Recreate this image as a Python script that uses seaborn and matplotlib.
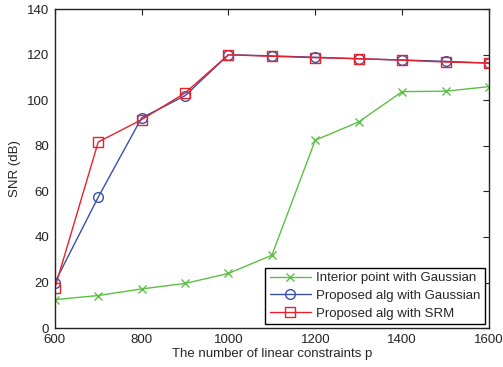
import numpy as np
import pandas as pd
import seaborn as sns
import matplotlib
matplotlib.use('Agg')
import matplotlib.pyplot as plt

p = [600, 700, 800, 900, 1000, 1100, 1200, 1300, 1400, 1500, 1600]
interior_gauss = [12.5, 14.3, 17.2, 19.6, 24.0, 32.0, 82.5, 90.5, 103.8, 104.0, 106.0]
proposed_gauss = [20.0, 57.5, 92.3, 102.0, 120.0, 119.5, 118.9, 118.2, 117.7, 117.1, 116.3]
proposed_srm = [17.5, 81.7, 91.5, 103.2, 120.0, 119.3, 118.7, 118.3, 117.6, 116.8, 116.4]

labels = ['Interior point with Gaussian', 'Proposed alg with Gaussian', 'Proposed alg with SRM']

df = pd.DataFrame({
    'p': p * 3,
    'snr': interior_gauss + proposed_gauss + proposed_srm,
    'method': [labels[0]] * len(p) + [labels[1]] * len(p) + [labels[2]] * len(p),
})

sns.set_style('white')
plt.rcParams['font.family'] = ['Liberation Sans', 'DejaVu Sans']
plt.rcParams['font.size'] = 9.5

fig = plt.figure(figsize=(5.03, 3.67), dpi=100)
ax = fig.add_axes([0.109, 0.106, 0.863, 0.869])

palette = {labels[0]: '#5dbf45', labels[1]: '#3a4fa8', labels[2]: '#e8202c'}
markers = {labels[0]: 'x', labels[1]: 'o', labels[2]: 's'}
msizes = {labels[0]: 5.5, labels[1]: 7, labels[2]: 7}
for lab in labels:
    sub = df[df['method'] == lab]
    sns.lineplot(data=sub, x='p', y='snr', ax=ax, color=palette[lab],
                 marker=markers[lab], markersize=msizes[lab], linewidth=1.0,
                 markerfacecolor='none', markeredgecolor=palette[lab],
                 markeredgewidth=1.0, label=lab)

ax.set_xlim(600, 1600)
ax.set_ylim(0, 140)
ax.set_xticks(range(600, 1601, 200))
ax.set_yticks(range(0, 141, 20))
ax.set_xlabel('The number of linear constraints p', fontsize=9.5, labelpad=1)
ax.set_ylabel('SNR (dB)', fontsize=9.5, labelpad=4)
ax.tick_params(direction='in', length=4, width=0.8, top=True, right=True,
               labelsize=9.5, colors='#222222')
ax.tick_params(axis='x', pad=4.5)
ax.tick_params(axis='y', pad=4)
for s in ax.spines.values():
    s.set_color('#222222')
    s.set_linewidth(1.0)

leg = ax.legend(loc='lower right', fontsize=9.5, frameon=True, fancybox=False,
                edgecolor='black', framealpha=1, borderpad=0.35,
                labelspacing=0.4, handlelength=3.1, handletextpad=0.4,
                borderaxespad=0.3)
leg.get_frame().set_linewidth(1.0)

fig.savefig('out.png', dpi=100)
